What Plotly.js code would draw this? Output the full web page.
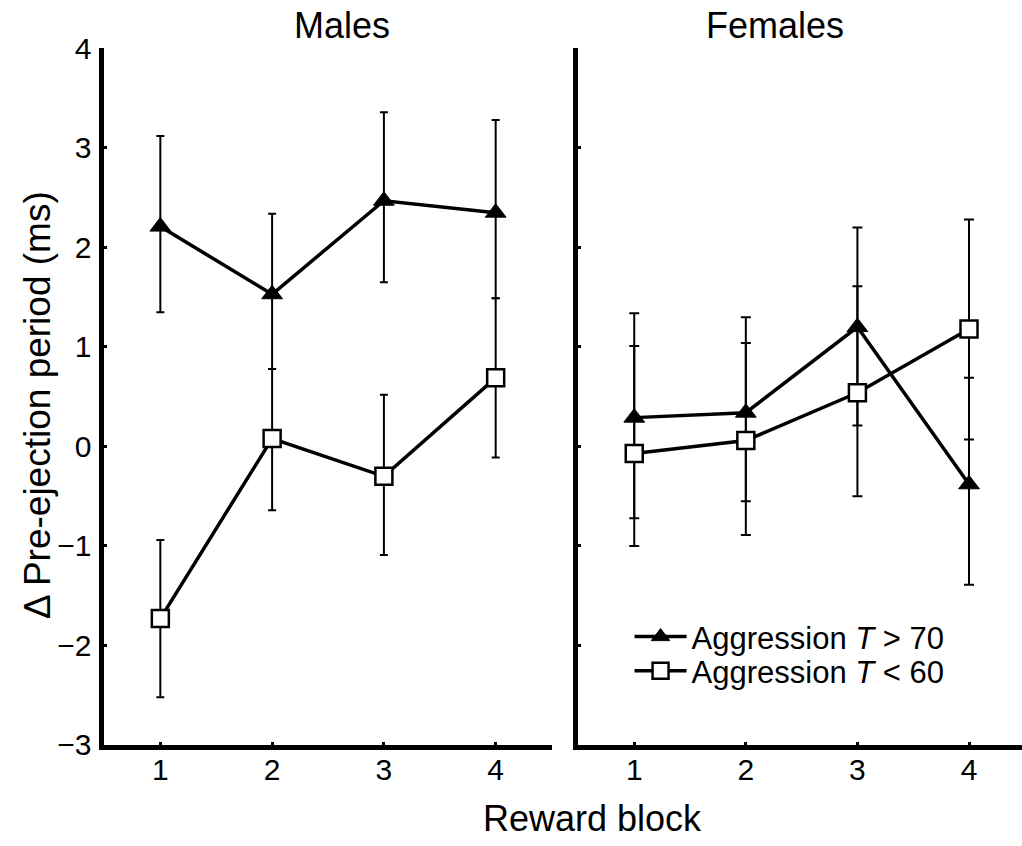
<!DOCTYPE html>
<html>
<head>
<meta charset="utf-8">
<script src="https://cdn.plot.ly/plotly-3.0.1.min.js"></script>
<style>html,body{margin:0;padding:0;background:#fff;}#chart{width:1022px;height:846px;}</style>
</head>
<body>
<div id="chart"></div>
<script>
// Reward blocks (x categories)
var blocks = [1, 2, 3, 4];
var tickLabels = ['1', '2', '3', '4'];

// Males
var malesHigh = [2.21, 1.53, 2.47, 2.35];
var malesHighErrPlus = [0.91, 0.81, 0.89, 0.93];
var malesHighErrMinus = [0.86, 0.75, 0.82, 0.86];
var malesLow = [-1.73, 0.08, -0.30, 0.69];
var malesLowErrPlus = [0.79, 0.70, 0.82, 0.80];
var malesLowErrMinus = [0.79, 0.72, 0.79, 0.80];

// Females
var femalesHigh = [0.29, 0.34, 1.20, -0.38];
var femalesHighErrPlus = [1.05, 0.96, 1.00, 1.07];
var femalesHighErrMinus = [1.01, 0.89, 0.99, 1.01];
var femalesLow = [-0.07, 0.06, 0.54, 1.18];
var femalesLowErrPlus = [1.08, 0.98, 1.07, 1.10];
var femalesLowErrMinus = [0.93, 0.95, 1.04, 1.11];

var nameHigh = 'Aggression <i>T</i> &gt; 70';
var nameLow = 'Aggression <i>T</i> &lt; 60';

var FONT = 'Liberation Sans, Arial, Helvetica, sans-serif';

function tri(x, y, ep, em, xa, ya, show, capw) {
  return {
    x: x, y: y, xaxis: xa, yaxis: ya, type: 'scatter', mode: 'lines+markers',
    name: nameHigh, legendgroup: 'high', showlegend: show, legend: 'legend',
    line: {color: '#000', width: 3.5},
    marker: {symbol: 'triangle-up', size: 18, color: '#000', line: {color: '#000', width: 1}},
    error_y: {type: 'data', symmetric: false, array: ep, arrayminus: em, color: '#000', thickness: 2, width: capw}
  };
}
function sq(x, y, ep, em, xa, ya, show, capw) {
  return {
    x: x, y: y, xaxis: xa, yaxis: ya, type: 'scatter', mode: 'lines+markers',
    name: nameLow, legendgroup: 'low', showlegend: show, legend: 'legend2',
    line: {color: '#000', width: 3.5},
    marker: {symbol: 'square', size: 17, color: '#fff', line: {color: '#000', width: 2.5}},
    error_y: {type: 'data', symmetric: false, array: ep, arrayminus: em, color: '#000', thickness: 2, width: capw}
  };
}

var data = [
  sq(blocks, malesLow, malesLowErrPlus, malesLowErrMinus, 'x', 'y', false, 4),
  tri(blocks, malesHigh, malesHighErrPlus, malesHighErrMinus, 'x', 'y', false, 4),
  tri(blocks, femalesHigh, femalesHighErrPlus, femalesHighErrMinus, 'x2', 'y2', true, 5),
  sq(blocks, femalesLow, femalesLowErrPlus, femalesLowErrMinus, 'x2', 'y2', true, 5)
];

var axisCommon = {
  showgrid: false, zeroline: false, showline: true, linecolor: '#000', linewidth: 5,
  ticks: 'inside', ticklen: 3, tickwidth: 3, tickcolor: '#000',
  tickfont: {family: FONT, size: 30, color: '#000'}
};

var legendCommon = {
  xanchor: 'left', yanchor: 'top', bgcolor: 'rgba(0,0,0,0)', borderwidth: 0,
  font: {family: FONT, size: 31, color: '#000'}, itemwidth: 52, tracegroupgap: 0
};

var layout = {
  width: 1022, height: 846,
  margin: {l: 0, r: 0, t: 0, b: 0},
  paper_bgcolor: '#fff', plot_bgcolor: 'rgba(0,0,0,0)',
  font: {family: FONT, color: '#000'},
  xaxis: Object.assign({}, axisCommon, {domain: [0.1022, 0.5397], range: [0.5, 4.5], tickvals: blocks, ticktext: tickLabels, anchor: 'y', ticklabelstandoff: -6}),
  yaxis: Object.assign({}, axisCommon, {domain: [0.1194, 0.9427], range: [-3, 4], dtick: 1, tick0: 0, anchor: 'x', ticklabelstandoff: 2}),
  xaxis2: Object.assign({}, axisCommon, {domain: [0.566, 1.0], range: [0.5, 4.475], tickvals: blocks, ticktext: tickLabels, anchor: 'y2', ticklabelstandoff: -6}),
  yaxis2: Object.assign({}, axisCommon, {domain: [0.1194, 0.9427], range: [-3, 4], dtick: 1, tick0: 0, anchor: 'x2', showticklabels: false}),
  showlegend: true,
  legend: Object.assign({}, legendCommon, {x: 0.616, y: 0.279}),
  legend2: Object.assign({}, legendCommon, {x: 0.616, y: 0.2388}),
  annotations: [
    {text: 'Males', xref: 'paper', yref: 'paper', x: 0.3343, y: 0.970, xanchor: 'center', yanchor: 'middle', showarrow: false, font: {family: FONT, size: 36, color: '#000'}},
    {text: 'Females', xref: 'paper', yref: 'paper', x: 0.7583, y: 0.970, xanchor: 'center', yanchor: 'middle', showarrow: false, font: {family: FONT, size: 36, color: '#000'}},
    {text: 'Reward block', xref: 'paper', yref: 'paper', x: 0.5797, y: 0.033, xanchor: 'center', yanchor: 'middle', showarrow: false, font: {family: FONT, size: 36, color: '#000'}},
    {text: '\u0394 Pre-ejection period (ms)', xref: 'paper', yref: 'paper', x: 0.036, y: 0.521, xanchor: 'center', yanchor: 'middle', textangle: -90, showarrow: false, font: {family: FONT, size: 37, color: '#000'}}
  ]
};

Plotly.newPlot('chart', data, layout, {displayModeBar: false, staticPlot: true});
</script>
</body>
</html>
